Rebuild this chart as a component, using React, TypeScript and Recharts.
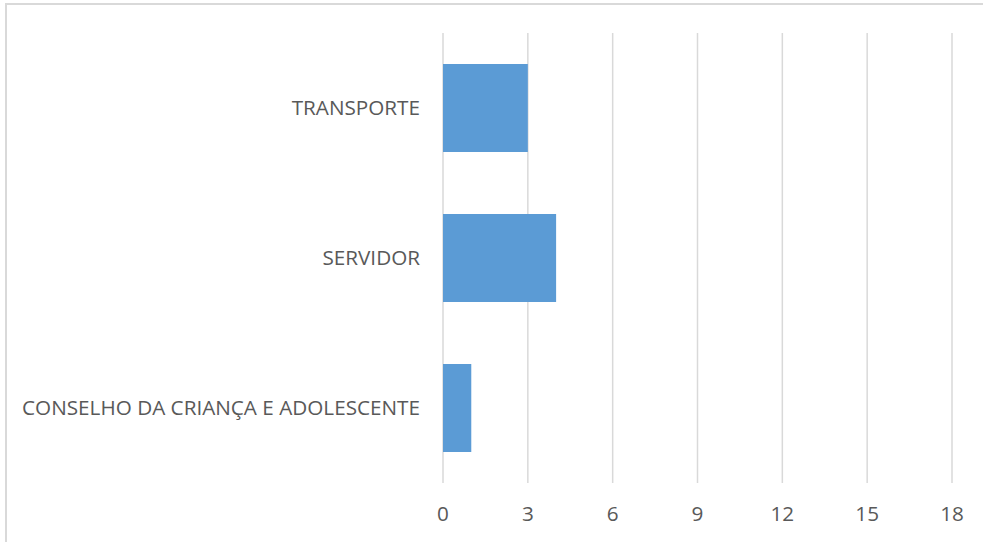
import React from "react";
import { BarChart, Bar, XAxis, YAxis, CartesianGrid } from "recharts";

const categories = ["TRANSPORTE", "SERVIDOR", "CONSELHO DA CRIANÇA E ADOLESCENTE"];
const values = [3, 4, 1];
const xTicks = [0, 3, 6, 9, 12, 15, 18];

const data = categories.map((name, i) => ({ name, value: values[i] }));

const font = "'Open Sans', 'Noto Sans', sans-serif";

const App = () => {
  return (
    <div
      style={{
        position: "fixed",
        left: 0,
        top: 0,
        width: 983,
        height: 542,
        overflow: "hidden",
        background: "#fff",
      }}
    >
      <div
        style={{
          position: "absolute",
          left: 5,
          top: 3,
          width: 1000,
          height: 600,
          border: "2px solid #d9d9d9",
          boxSizing: "border-box",
        }}
      />
      <div style={{ position: "absolute", left: 0, top: 0 }}>
        <BarChart
          width={983}
          height={542}
          data={data}
          layout="vertical"
          margin={{ top: 33, right: 31, left: 0, bottom: 0 }}
        >
          <CartesianGrid
            horizontal={false}
            stroke="#d9d9d9"
            strokeWidth={1.5}
          />
          <XAxis
            type="number"
            domain={[0, 18]}
            ticks={xTicks}
            axisLine={false}
            tickLine={false}
            height={59}
            tickMargin={17}
            tick={{ fill: "#595959", fontSize: 20.7, fontFamily: font }}
          />
          <YAxis
            type="category"
            dataKey="name"
            width={443}
            axisLine={false}
            tickLine={false}
            tickMargin={17}
            tick={{ fill: "#595959", fontSize: 20.7, fontFamily: font }}
          />
          <Bar
            dataKey="value"
            fill="#5b9bd5"
            barSize={88}
            isAnimationActive={false}
          />
        </BarChart>
      </div>
    </div>
  );
};

export default App;
